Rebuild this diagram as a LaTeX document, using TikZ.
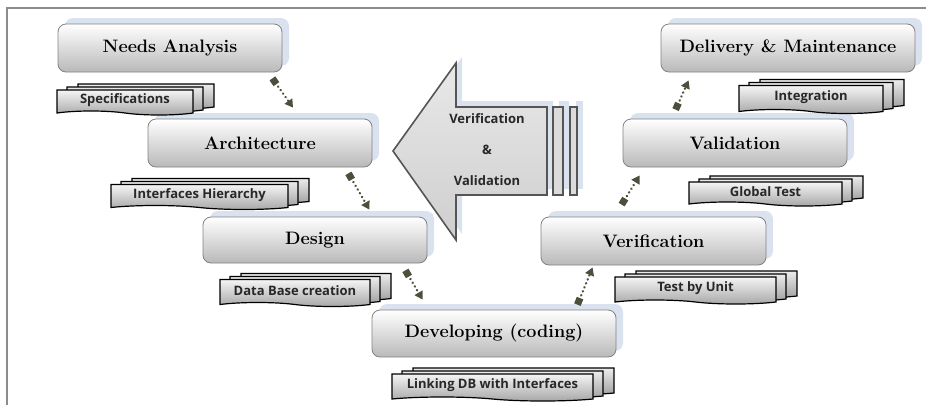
\documentclass[tikz,border=0pt]{standalone}
\usepackage{fontspec}
\newfontfamily\docfont{Open Sans}
\usetikzlibrary{shapes.symbols,arrows.meta,calc}
\definecolor{shadowblue}{RGB}{218,226,240}
\definecolor{conncol}{RGB}{78,78,60}
\definecolor{framecol}{RGB}{140,140,140}
\definecolor{boxline}{RGB}{130,130,130}
\definecolor{doctext}{RGB}{40,40,40}
\definecolor{arrowline}{RGB}{85,85,85}
\tikzset{
  phase/.style={rounded corners=8pt, draw=boxline, line width=0.8pt,
    top color=white, bottom color=gray!55, inner sep=0pt,
    font=\bfseries\fontsize{18}{18}\selectfont, text=black},
  phaseshadow/.style={fill=shadowblue, rounded corners=8pt},
  docback/.style={tape, tape bend top=none, tape bend bottom=out and in,
    tape bend height=4pt, draw=black, line width=1.2pt,
    top color=gray!15, bottom color=gray!75, inner sep=0pt},
  doc/.style={docback, top color=gray!8, bottom color=gray!70,
    font=\docfont\bfseries\fontsize{13}{13}\selectfont, text=doctext},
  conn/.style={draw=conncol, line width=2.6pt, dash pattern=on 0.1pt off 4.2pt,
    line cap=round, {Square[length=7pt,width=7pt]}-{Triangle[length=8pt,width=9pt]}},
  vvtext/.style={font=\docfont\bfseries\fontsize{13}{13}\selectfont, text=doctext},
}
\newcommand{\phasebox}[6]{%
  \fill[phaseshadow] ({#2-#4/2+7},{#3-#5/2-6}) rectangle ++(#4,#5);
  \node[phase, minimum width=#4pt, minimum height=#5pt] (#1) at (#2,#3) {#6};
}
\newcommand{\docstack}[6]{%
  \node[docback, minimum width=#4pt, minimum height=#5pt] (#1c) at ({#2+21},{#3-6}) {};
  \node[docback, minimum width=#4pt, minimum height=#5pt] (#1b) at ({#2+10},{#3-3}) {};
  \node[doc, minimum width=#4pt, minimum height=#5pt] (#1) at (#2,#3) {#6};
}
\begin{document}
\begin{tikzpicture}[x=1pt,y=-1pt]
\useasboundingbox (0,0) rectangle (926,405);
% frame
\draw[framecol, line width=2pt] (926,8) -- (7,8) -- (7,405);
% big arrow shadow
\fill[shadowblue] (399,145) -- (462,57) -- (462,101) -- (553,101) -- (553,189) -- (462,189) -- (462,234) -- cycle;
\fill[shadowblue] (559,101) rectangle (569,189);
\fill[shadowblue] (576,101) rectangle (583,189);
% big arrow
\draw[arrowline, line width=1.6pt, top color=gray!18, bottom color=gray!38, line join=miter]
  (393,151) -- (456,63) -- (456,107) -- (547,107) -- (547,195) -- (456,195) -- (456,240) -- cycle;
\draw[arrowline, line width=1.6pt, fill=gray!28] (553,107) rectangle (563,195);
\draw[arrowline, line width=1.6pt, fill=gray!28] (570,107) rectangle (577,195);
\node[vvtext] (vv1) at (487,119) {Verification};
\node[vvtext] (vv2) at (487,150) {\&};
\node[vvtext] (vv3) at (487,181) {Validation};
% phases
\phasebox{na}{170}{48}{224}{48}{Needs Analysis}
\phasebox{ar}{260}{143}{224}{48}{Architecture}
\phasebox{de}{315}{240}{224}{46}{Design}
\phasebox{dv}{494}{333.5}{244}{47}{Developing (coding)}
\phasebox{ve}{653.5}{241}{225}{48}{Verification}
\phasebox{va}{735}{143}{224}{48}{Validation}
\phasebox{dm}{788}{48}{254}{48}{Delivery \& Maintenance}
% documents
\docstack{d1}{125}{100.5}{136}{25}{Specifications}
\docstack{d2}{199.5}{195}{177}{25}{Interfaces Hierarchy}
\docstack{d3}{295}{291}{150}{27}{Data Base creation}
\docstack{d4}{492.5}{385.5}{201}{27}{Linking DB with Interfaces}
\docstack{d5}{695.5}{288.5}{161}{27}{Test by Unit}
\docstack{d6}{765.5}{192}{153}{24}{Global Test}
\docstack{d7}{811}{97.5}{144}{28}{Integration}
% connectors
\draw[conn] ($(na.south east)+(-10,6)$) -- ($(ar.north)+(33,-11)$);
\draw[conn] ($(ar.south east)+(-24,6)$) -- ($(de.north east)+(-58,-7)$);
\draw[conn] ($(de.south east)+(-22,7)$) -- ($(dv.north west)+(51,-10)$);
\draw[conn] ($(dv.north east)+(-39,-5)$) -- ($(ve.south west)+(52,2)$);
\draw[conn] ($(ve.north west)+(81,-12)$) -- ($(va.south west)+(17,8)$);
\draw[conn] ($(va.north west)+(53,-9)$) -- ($(dm.south west)+(28,8)$);
\end{tikzpicture}
\end{document}
